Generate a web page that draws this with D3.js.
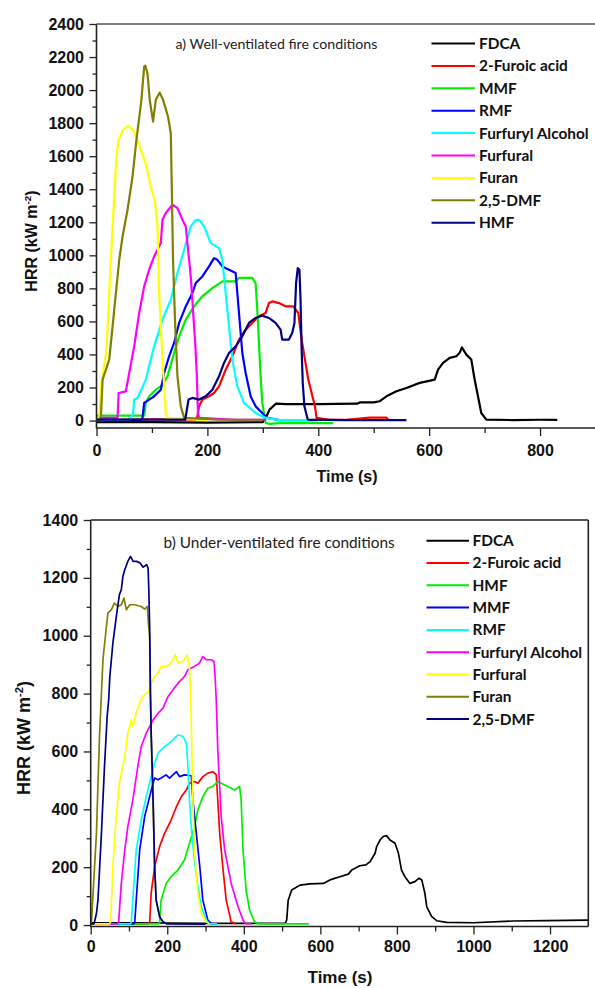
<!DOCTYPE html>
<html>
<head>
<meta charset="utf-8">
<script src="https://cdn.jsdelivr.net/npm/d3@7"></script>
<style>
  html, body { margin: 0; padding: 0; background: #fff; }
  svg { display: block; }
  .tick text { font-family: "Liberation Sans", Arial, sans-serif; font-weight: bold; font-size: 16px; fill: #111; }
</style>
</head>
<body>
<svg id="chart" width="595" height="988"></svg>
<script>
// ---------- Panel a: well-ventilated fire conditions (time s, HRR kW m-2) ----------
const seriesA = ["FDCA", "2-Furoic acid", "MMF", "RMF", "Furfuryl Alcohol", "Furfural", "Furan", "2,5-DMF", "HMF"];
const colorsA = ["#000000", "#ff0000", "#00ee00", "#0000ff", "#00ffff", "#ff00ff", "#ffff00", "#808000", "#000080"];

const aFDCA = [[0,-10],[100,-10],[200,-12],[300,-10],[306,20],[312,66],[324,103],[342,100],[400,100],[470,102],[475,110],[500,110],[511,117],[523,147],[541,177],[559,197],[583,228],[610,248],[616,308],[625,349],[637,379],[649,389],[655,410],[659,443],[667,399],[676,369],[682,248],[688,147],[694,46],[703,6],[750,3],[800,5],[831,4]];
const aFuroic = [[0,5],[100,8],[178,5],[182,26],[185,86],[191,127],[203,147],[212,167],[221,207],[233,308],[245,389],[257,490],[269,550],[281,591],[293,631],[305,651],[311,711],[317,721],[329,711],[342,691],[355,691],[364,651],[370,490],[376,369],[382,248],[388,167],[394,86],[397,16],[420,5],[450,5],[493,18],[523,18],[526,5]];
const aMMF = [[0,30],[60,30],[86,30],[89,107],[95,147],[107,187],[116,207],[128,268],[140,409],[149,510],[161,611],[176,691],[191,752],[209,802],[227,842],[251,842],[257,863],[281,863],[287,832],[290,671],[293,470],[296,268],[299,107],[305,-14],[312,-20],[330,-15],[427,-15]];
const aRMF = [[0,2],[80,2],[83,16],[86,107],[95,127],[104,147],[116,187],[122,288],[131,389],[140,470],[149,591],[161,691],[173,772],[179,832],[191,872],[203,933],[212,983],[218,973],[227,933],[239,913],[251,893],[254,772],[259,570],[263,409],[269,288],[278,147],[287,86],[299,46],[308,16],[330,3],[400,3]];
const aFA = [[0,3],[60,5],[66,46],[68,127],[74,137],[89,248],[104,449],[119,611],[134,731],[146,893],[158,1034],[170,1175],[179,1215],[185,1215],[194,1175],[206,1074],[221,1044],[227,973],[233,772],[239,570],[245,369],[254,207],[266,107],[287,46],[305,16],[330,3],[385,3]];
const aFurfural = [[0,16],[38,16],[40,167],[53,177],[59,288],[68,449],[77,651],[86,812],[95,913],[104,993],[116,1074],[119,1215],[125,1256],[137,1306],[146,1286],[155,1215],[161,1175],[164,1074],[170,872],[174,671],[178,470],[181,268],[183,46],[185,16],[250,5],[306,5]];
const aFuran = [[0,5],[5,20],[9,228],[11,268],[18,430],[23,772],[29,1175],[33,1417],[36,1598],[40,1699],[48,1760],[57,1784],[66,1760],[78,1659],[90,1538],[99,1397],[105,1336],[110,1175],[113,772],[119,369],[125,46],[127,16],[200,3]];
const aDMF = [[0,5],[5,5],[8,26],[11,248],[23,369],[32,671],[41,973],[47,1114],[56,1276],[65,1477],[72,1699],[81,1941],[86,2142],[88,2148],[92,2100],[96,1941],[102,1810],[107,1941],[114,1985],[120,1941],[129,1840],[134,1739],[136,1377],[138,973],[142,570],[146,268],[152,86],[158,16],[220,5],[300,5]];
const aHMF = [[0,6],[160,6],[166,127],[173,137],[185,127],[197,147],[209,187],[221,268],[230,349],[239,409],[251,449],[263,510],[275,591],[287,621],[299,635],[311,621],[323,591],[332,550],[335,490],[347,490],[353,530],[357,591],[360,833],[363,923],[366,913],[368,731],[370,429],[372,228],[375,86],[381,6],[450,3],[559,3]];
const dataA = [aFDCA, aFuroic, aMMF, aRMF, aFA, aFurfural, aFuran, aDMF, aHMF];

const yTicksA = [0, 200, 400, 600, 800, 1000, 1200, 1400, 1600, 1800, 2000, 2200, 2400];
const xTicksA = [0, 200, 400, 600, 800];

// ---------- Panel b: under-ventilated fire conditions ----------
const seriesB = ["FDCA", "2-Furoic acid", "HMF", "MMF", "RMF", "Furfuryl Alcohol", "Furfural", "Furan", "2,5-DMF"];
const colorsB = ["#000000", "#ff0000", "#00ee00", "#0000ff", "#00ffff", "#ff00ff", "#ffff00", "#808000", "#000080"];

const bFDCA = [[0,8],[100,8],[300,6],[508,6],[512,17],[516,86],[525,121],[547,138],[573,142],[608,144],[625,156],[651,167],[673,176],[682,190],[703,205],[719,208],[730,219],[743,248],[747,271],[756,294],[764,306],[773,309],[782,294],[795,283],[804,248],[812,190],[821,167],[834,144],[847,150],[858,162],[865,156],[873,110],[878,63],[891,29],[904,15],[930,9],[1000,8],[1104,14],[1191,15],[1300,17]];
const bFuroic = [[0,4],[150,4],[154,8],[158,110],[167,202],[180,271],[193,317],[210,363],[224,409],[237,444],[250,467],[258,490],[271,496],[280,490],[293,513],[306,525],[319,530],[328,519],[332,432],[337,317],[345,202],[354,86],[367,11],[380,4]];
const bHMF = [[0,4],[176,4],[180,8],[184,86],[197,144],[210,167],[228,190],[245,225],[258,283],[271,340],[280,398],[293,444],[306,473],[319,479],[332,496],[341,490],[358,479],[376,467],[389,479],[393,432],[398,260],[406,121],[415,52],[428,11],[440,4],[570,4]];
const bMMF = [[0,4],[111,4],[115,8],[119,86],[128,260],[141,375],[154,444],[163,490],[167,508],[176,502],[184,508],[197,519],[206,508],[224,530],[232,513],[245,519],[263,516],[267,432],[276,317],[285,202],[293,86],[306,17],[315,5],[330,4]];
const bRMF = [[0,4],[103,4],[106,8],[110,86],[119,260],[132,363],[145,444],[158,513],[167,560],[176,594],[193,617],[206,629],[219,646],[228,657],[241,652],[250,629],[254,548],[258,432],[264,317],[271,225],[280,133],[289,63],[302,17],[309,5],[330,4]];
const bFA = [[0,4],[70,4],[73,11],[80,144],[89,260],[97,340],[110,432],[123,548],[132,617],[145,663],[154,686],[163,709],[176,732],[189,750],[202,790],[215,813],[228,836],[245,859],[254,882],[271,894],[284,905],[293,928],[302,917],[315,917],[322,911],[325,859],[328,779],[332,606],[341,375],[350,260],[367,144],[385,63],[398,17],[405,5],[420,4]];
const bFurfural = [[0,4],[49,4],[52,11],[58,202],[67,375],[75,490],[89,582],[97,663],[106,709],[110,686],[119,732],[128,767],[136,790],[145,802],[150,802],[158,836],[167,859],[176,871],[184,894],[197,894],[210,905],[221,934],[228,905],[241,911],[252,934],[258,894],[261,802],[263,686],[267,432],[271,260],[280,110],[289,40],[302,11],[310,4]];
const bFuran = [[0,4],[2,11],[15,317],[23,652],[32,917],[41,1032],[45,1078],[54,1090],[62,1113],[71,1101],[80,1107],[87,1130],[93,1090],[102,1107],[115,1107],[132,1101],[141,1092],[148,1101],[151,1040],[154,1000],[156,802],[158,663],[163,432],[167,202],[171,86],[180,29],[189,11],[200,4]];
const bDMF = [[0,4],[8,4],[10,11],[15,40],[19,86],[28,317],[36,548],[43,721],[47,779],[50,859],[58,975],[67,1067],[75,1142],[80,1159],[84,1205],[89,1228],[97,1257],[104,1274],[111,1257],[120,1257],[129,1251],[137,1237],[146,1246],[150,1234],[152,1150],[154,1032],[156,802],[158,663],[163,432],[167,202],[171,86],[180,29],[189,11],[200,4],[300,3]];
const dataB = [bFDCA, bFuroic, bHMF, bMMF, bRMF, bFA, bFurfural, bFuran, bDMF];

const yTicksB = [0, 200, 400, 600, 800, 1000, 1200, 1400];
const xTicksB = [0, 200, 400, 600, 800, 1000, 1200];

// ---------- drawing ----------
const svg = d3.select("#chart");
const boldSans = '"Liberation Sans", Arial, sans-serif';
const legendFont = 'Lato, "Open Sans", sans-serif';

function drawPanel(cfg) {
  const g = svg.append("g");
  const x = d3.scaleLinear().domain(cfg.xDomain).range(cfg.xRange);
  const y = d3.scaleLinear().domain(cfg.yDomain).range(cfg.yRange);

  // clip for the traces
  const clipId = "clip-" + cfg.id;
  svg.append("clipPath").attr("id", clipId)
    .append("rect")
    .attr("x", cfg.xRange[0]).attr("y", cfg.yRange[1])
    .attr("width", cfg.xRange[1] - cfg.xRange[0])
    .attr("height", cfg.yRange[0] - cfg.yRange[1]);

  // minor ticks
  const minorY = d3.range(cfg.yMinorStep, cfg.yDomain[1], cfg.yMinorStep * 2);
  const minorX = d3.range(cfg.xMinorStep, cfg.xDomain[1], cfg.xMinorStep * 2);
  g.append("g").attr("transform", `translate(${cfg.xRange[0]},0)`)
    .call(d3.axisLeft(y).tickValues(minorY).tickSize(4).tickFormat(""))
    .call(s => s.select(".domain").remove())
    .selectAll("line").attr("stroke", "#222").attr("stroke-width", 1.3);
  g.append("g").attr("transform", `translate(0,${cfg.yRange[0]})`)
    .call(d3.axisBottom(x).tickValues(minorX).tickSize(5).tickFormat(""))
    .call(s => s.select(".domain").remove())
    .selectAll("line").attr("stroke", "#222").attr("stroke-width", 1.3);

  // major ticks with labels
  const yAx = g.append("g").attr("transform", `translate(${cfg.xRange[0]},0)`)
    .call(d3.axisLeft(y).tickValues(cfg.yTicks).tickSize(7).tickPadding(5.5).tickFormat(d3.format("d")));
  yAx.select(".domain").remove();
  yAx.selectAll("line").attr("stroke", "#222").attr("stroke-width", 1.3);

  const xAx = g.append("g").attr("transform", `translate(0,${cfg.yRange[0]})`)
    .call(d3.axisBottom(x).tickValues(cfg.xTicks).tickSize(8).tickPadding(cfg.xTickPad).tickFormat(d3.format("d")));
  xAx.select(".domain").remove();
  xAx.selectAll("line").attr("stroke", "#222").attr("stroke-width", 1.3);

  // traces
  const line = d3.line().x(d => x(d[0])).y(d => y(d[1]));
  const traces = g.append("g").attr("clip-path", `url(#${clipId})`);
  cfg.data.forEach((pts, i) => {
    traces.append("path")
      .datum(pts)
      .attr("d", line)
      .attr("fill", "none")
      .attr("stroke", cfg.colors[i])
      .attr("stroke-width", cfg.lineWidth)
      .attr("stroke-linejoin", "round");
  });

  // frame
  const [x0, x1] = cfg.xRange, [yb, yt] = cfg.yRange;
  g.append("line").attr("x1", x0).attr("x2", x0).attr("y1", yt).attr("y2", yb + 0.5)
    .attr("stroke", "#222").attr("stroke-width", 1.6);
  g.append("line").attr("x1", x0).attr("x2", x1).attr("y1", yb).attr("y2", yb)
    .attr("stroke", "#222").attr("stroke-width", 1.6);
  g.append("line").attr("x1", x0).attr("x2", x1).attr("y1", yt).attr("y2", yt)
    .attr("stroke", cfg.topColor).attr("stroke-width", 1.6);
  if (cfg.rightFrame) {
    g.append("line").attr("x1", x1).attr("x2", x1).attr("y1", yt).attr("y2", yb)
      .attr("stroke", "#222").attr("stroke-width", 1.6);
  }

  // panel title
  g.append("text").attr("x", cfg.title.x).attr("y", cfg.title.y)
    .attr("font-family", legendFont).attr("font-size", cfg.title.size)
    .attr("fill", "#222").text(cfg.title.text);

  // legend
  const lg = g.append("g");
  cfg.series.forEach((name, i) => {
    const cy = cfg.legend.y0 + i * cfg.legend.dy;
    lg.append("line").attr("x1", cfg.legend.x0).attr("x2", cfg.legend.x1)
      .attr("y1", cy).attr("y2", cy)
      .attr("stroke", cfg.colors[i]).attr("stroke-width", 2);
    lg.append("text").attr("x", cfg.legend.tx).attr("y", cy + 5.4)
      .attr("font-family", legendFont).attr("font-weight", "bold")
      .attr("font-size", 15.4).attr("fill", "#111").text(name);
  });

  // axis titles
  g.append("text").attr("x", cfg.xLabel.x).attr("y", cfg.xLabel.y)
    .attr("text-anchor", "middle").attr("font-family", boldSans)
    .attr("font-weight", "bold").attr("font-size", cfg.xLabel.size)
    .attr("fill", "#111").text("Time (s)");

  const yl = g.append("text")
    .attr("transform", `translate(${cfg.yLabel.x},${cfg.yLabel.y}) rotate(-90)`)
    .attr("text-anchor", "middle").attr("font-family", boldSans)
    .attr("font-weight", "bold").attr("font-size", cfg.yLabel.size).attr("fill", "#111");
  yl.append("tspan").text("HRR (kW m");
  yl.append("tspan").attr("dy", -cfg.yLabel.size * 0.4).attr("font-size", cfg.yLabel.size * 0.62).text("-2");
  yl.append("tspan").attr("dy", cfg.yLabel.size * 0.4).text(")");
}

drawPanel({
  id: "a",
  xDomain: [0, 900], xRange: [96.5, 595.5],
  yDomain: [-45, 2400], yRange: [428, 24],
  yTicks: yTicksA, xTicks: xTicksA, yMinorStep: 100, xMinorStep: 100,
  xTickPad: 9,
  data: dataA, series: seriesA, colors: colorsA, lineWidth: 2.2,
  topColor: "#555", rightFrame: false,
  title: { x: 175.5, y: 49, size: 14.2, text: "a) Well-ventilated fire conditions" },
  legend: { x0: 431.5, x1: 475, tx: 479, y0: 43.5, dy: 22.4 },
  xLabel: { x: 347, y: 482, size: 16 },
  yLabel: { x: 37, y: 241, size: 16 }
});

drawPanel({
  id: "b",
  xDomain: [0, 1300], xRange: [90.7, 588.3],
  yDomain: [-5, 1400], yRange: [926.5, 520],
  yTicks: yTicksB, xTicks: xTicksB, yMinorStep: 100, xMinorStep: 100,
  xTickPad: 6,
  data: dataB, series: seriesB, colors: colorsB, lineWidth: 1.7,
  topColor: "#222", rightFrame: true,
  title: { x: 163.5, y: 547.5, size: 15.4, text: "b) Under-ventilated fire conditions" },
  legend: { x0: 426.5, x1: 469, tx: 472.5, y0: 540.7, dy: 22.3 },
  xLabel: { x: 340, y: 983, size: 17 },
  yLabel: { x: 30, y: 738, size: 18 }
});
</script>
</body>
</html>
